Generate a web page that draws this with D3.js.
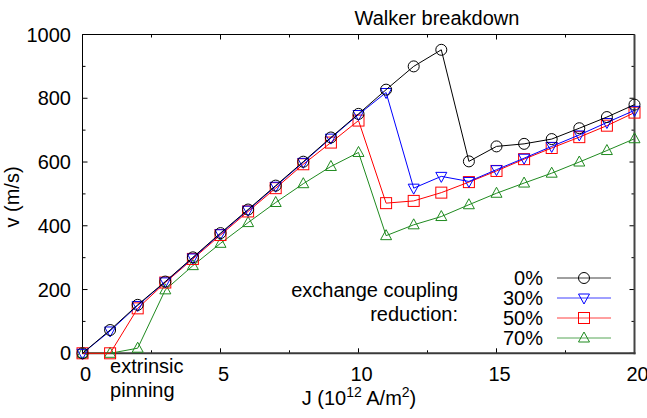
<!DOCTYPE html>
<html>
<head>
<meta charset="utf-8">
<script src="https://cdn.jsdelivr.net/npm/d3@7"></script>
<style>
  body { margin: 0; background: #fff; }
  text { font-family: "Liberation Sans", Arial, sans-serif; fill: #000; }
</style>
</head>
<body>
<svg id="chart" width="647" height="418"></svg>
<script>
// current density J (10^12 A/m^2)
var J = [0, 1, 2, 3, 4, 5, 6, 7, 8, 9, 10, 11, 12, 13, 14, 15, 16, 17, 18, 19, 20];

// velocity (m/s) per exchange coupling reduction
var v0  = [0, 73, 152, 225, 301, 377, 451, 526, 601, 677, 751, 827, 900, 952, 602, 649, 657, 672, 706, 741, 780];
var v30 = [0, 70, 150, 224, 299, 375, 449, 524, 599, 675, 749, 818, 518, 555, 539, 576, 612, 649, 685, 724, 762];
var v50 = [0, 0, 141, 222, 296, 371, 445, 518, 593, 661, 730, 471, 478, 504, 537, 572, 609, 644, 678, 714, 755];
var v70 = [0, 0, 16, 199, 275, 345, 410, 473, 532, 586, 630, 369, 403, 429, 466, 502, 534, 565, 600, 636, 673];

var seriesNames = ["0%", "30%", "50%", "70%"];
var seriesColors = ["#000000", "#0000ff", "#ff0000", "#1f8a1f"];
var seriesMarkers = ["circle", "tridown", "square", "triup"];
var seriesValues = [v0, v30, v50, v70];

var xTicks = [0, 5, 10, 15, 20];
var yTicks = [0, 200, 400, 600, 800, 1000];

var svg = d3.select("#chart");
var fs = 20;

var pLeft = 82.5, pRight = 634.5, pTop = 34.5, pBottom = 353.3;

var x = d3.scaleLinear().domain([0, 20]).range([pLeft, pRight]);
var y = d3.scaleLinear().domain([0, 1000]).range([pBottom, pTop]);

// ticks on all four sides, pointing inwards
var ax = svg.append("g").attr("class", "axes");

function drawTicks(vals, major) {
    var len = major ? 5 : 3;
    vals.forEach(function(t) {
        ax.append("line").attr("x1", x(t)).attr("x2", x(t)).attr("y1", pBottom).attr("y2", pBottom - len).attr("stroke", "#000");
        ax.append("line").attr("x1", x(t)).attr("x2", x(t)).attr("y1", pTop).attr("y2", pTop + len).attr("stroke", "#000");
    });
}
drawTicks(xTicks, true);
drawTicks([2.5, 7.5, 12.5, 17.5], false);

d3.range(0, 1001, 100).forEach(function(t) {
    var len = (t % 200 == 0) ? 5 : 3;
    ax.append("line").attr("x1", pLeft).attr("x2", pLeft + len).attr("y1", y(t)).attr("y2", y(t)).attr("stroke", "#000");
    ax.append("line").attr("x1", pRight).attr("x2", pRight - len).attr("y1", y(t)).attr("y2", y(t)).attr("stroke", "#000");
});

// frame
ax.append("line").attr("x1", pLeft).attr("x2", pLeft).attr("y1", pTop).attr("y2", pBottom).attr("stroke", "#000");
ax.append("line").attr("x1", pLeft).attr("x2", pRight).attr("y1", pTop).attr("y2", pTop).attr("stroke", "#000");
ax.append("line").attr("x1", pRight).attr("x2", pRight).attr("y1", pTop).attr("y2", pBottom + 1).attr("stroke", "#444").attr("stroke-width", 2);
ax.append("line").attr("x1", pLeft).attr("x2", pRight + 1).attr("y1", pBottom).attr("y2", pBottom).attr("stroke", "#3a3a3a").attr("stroke-width", 2);

// tick labels
svg.append("g").selectAll("text").data(xTicks).join("text")
    .attr("x", d => x(d) + 3)
    .attr("y", 381)
    .attr("text-anchor", "middle")
    .attr("font-size", fs)
    .text(d => d);

svg.append("g").selectAll("text").data(yTicks).join("text")
    .attr("x", 71)
    .attr("y", d => y(d) + 7)
    .attr("text-anchor", "end")
    .attr("font-size", fs)
    .text(d => d);

// axis titles
var xl = svg.append("text").attr("x", 359).attr("y", 405).attr("text-anchor", "middle").attr("font-size", fs);
xl.append("tspan").text("J (10");
xl.append("tspan").attr("font-size", 14).attr("dy", -8).text("12");
xl.append("tspan").attr("dy", 8).text(" A/m");
xl.append("tspan").attr("font-size", 14).attr("dy", -8).text("2");
xl.append("tspan").attr("dy", 8).text(")");

svg.append("text")
    .attr("transform", "translate(19,197) rotate(-90)")
    .attr("text-anchor", "middle")
    .attr("font-size", fs)
    .text("v (m/s)");

// labels placed at data positions, left aligned
svg.append("text").attr("x", x(10) - 4).attr("y", 25).attr("font-size", fs).text("Walker breakdown");

svg.append("text").attr("x", x(1)).attr("y", 373).attr("font-size", fs).text("extrinsic");
svg.append("text").attr("x", x(1)).attr("y", 397).attr("font-size", fs).text("pinning");

svg.append("text").attr("x", 458).attr("y", 297).attr("text-anchor", "end").attr("font-size", fs).text("exchange coupling");
svg.append("text").attr("x", 458).attr("y", 321).attr("text-anchor", "end").attr("font-size", fs).text("reduction:");

function marker(g, type, cx, cy, color) {
    var s = 5.5;
    if (type == "circle") {
        g.append("circle").attr("cx", cx).attr("cy", cy).attr("r", s)
            .attr("fill", "none").attr("stroke", color);
    } else if (type == "square") {
        g.append("rect").attr("x", cx - s).attr("y", cy - s).attr("width", 2 * s).attr("height", 2 * s)
            .attr("fill", "none").attr("stroke", color);
    } else if (type == "triup") {
        g.append("path").attr("d", "M" + (cx - s) + "," + (cy + 4) + "L" + (cx + s) + "," + (cy + 4) + "L" + cx + "," + (cy - 6) + "Z")
            .attr("fill", "none").attr("stroke", color);
    } else {
        g.append("path").attr("d", "M" + (cx - s) + "," + (cy - 4) + "L" + (cx + s) + "," + (cy - 4) + "L" + cx + "," + (cy + 6) + "Z")
            .attr("fill", "none").attr("stroke", color);
    }
}

var line = d3.line().x(d => x(d[0])).y(d => y(d[1]));

// draw 70% first so 0% ends on top
for (var i = seriesValues.length - 1; i >= 0; i--) {
    var pts = J.map((j, k) => [j, seriesValues[i][k]]);
    var g = svg.append("g").attr("class", "series s" + i);
    g.append("path").attr("d", line(pts)).attr("fill", "none").attr("stroke", seriesColors[i]).attr("stroke-width", 1);
    pts.forEach(p => marker(g, seriesMarkers[i], x(p[0]), y(p[1]), seriesColors[i]));
}

// legend
var lg = svg.append("g").attr("class", "legend");
seriesNames.forEach(function(name, i) {
    var ly = 278 + i * 20;
    lg.append("text").attr("x", 543).attr("y", ly + 7).attr("text-anchor", "end").attr("font-size", fs).text(name);
    lg.append("line").attr("x1", 557).attr("x2", 611).attr("y1", ly).attr("y2", ly)
        .attr("stroke", seriesColors[i]).attr("stroke-opacity", 0.75);
    marker(lg, seriesMarkers[i], 584, ly, seriesColors[i]);
});
</script>
</body>
</html>
